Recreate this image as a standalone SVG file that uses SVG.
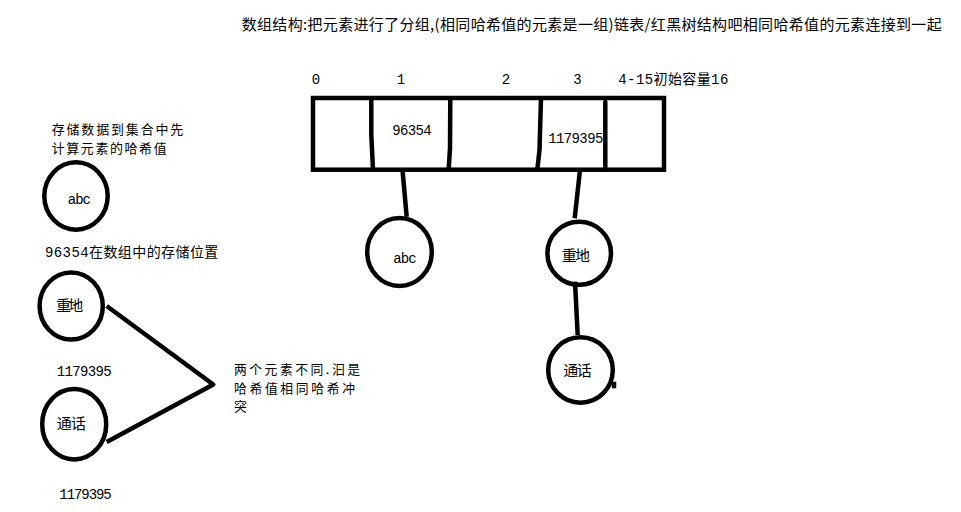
<svg xmlns="http://www.w3.org/2000/svg" width="961" height="512" viewBox="0 0 961 512">
<style>
.bg{fill:#fff}
.node{fill:none;stroke:#000;stroke-width:4.5}
.edge{fill:none;stroke:#000;stroke-width:4.5;stroke-linejoin:round}
text{font-family:"Liberation Mono","Noto Sans CJK SC",monospace;fill:#000}
.cjk{font-family:"Noto Sans CJK SC","Liberation Sans",sans-serif;font-size:15px}
.note{font-family:"Noto Sans CJK SC","Liberation Sans",sans-serif;font-size:13px}
.note2{font-family:"Noto Sans CJK SC","Liberation Sans",sans-serif;font-size:12.8px}
.num{font-size:14px}
</style>
<rect class="bg" x="0" y="0" width="961" height="512"/>

<text id="title" class="cjk" x="241.7" y="29.5" textLength="700" lengthAdjust="spacing">数组结构:把元素进行了分组,(相同哈希值的元素是一组)链表/红黑树结构吧相同哈希值的元素连接到一起</text>

<g id="array">
  <rect class="node" x="313" y="98" width="351" height="71.7"/>
  <path class="node" d="M371.3,98 L371.3,135 L373,169.7"/>
  <path class="node" d="M450.3,98 L450,148 L448.7,169.7"/>
  <path class="node" d="M541,98 L539.5,150 L537.3,169.7"/>
  <path class="node" d="M605.3,102 L605.3,169.7" stroke-linecap="round"/>
  <text class="num" x="311.7" y="84">0</text>
  <text class="num" x="396.7" y="84">1</text>
  <text class="num" x="501.7" y="84">2</text>
  <text class="num" x="573.3" y="84">3</text>
  <text style="font-size:14px" x="618.3" y="84" textLength="110" lengthAdjust="spacing">4-15初始容量16</text>
  <text class="num" x="392.3" y="135" textLength="39.4" lengthAdjust="spacing">96354</text>
  <text class="num" x="548.3" y="143" textLength="55" lengthAdjust="spacing">1179395</text>
</g>

<g id="connectors">
  <path class="edge" d="M402.5,170 L406.7,216.7"/>
  <path class="edge" d="M580,170 L574.7,218.3"/>
  <path class="edge" d="M575,281.7 L577.7,335"/>
  <path class="edge" d="M106.7,306 L213.3,384.5 L106.7,442"/>
</g>

<g id="node-abc-right">
  <ellipse class="node" cx="399.5" cy="252" rx="32.3" ry="34"/>
  <text class="num" x="393.3" y="263" textLength="23.4" lengthAdjust="spacing">abc</text>
</g>

<g id="node-zhongdi-right">
  <ellipse class="node" cx="579.2" cy="253.3" rx="31.8" ry="31.5"/>
  <text class="cjk" x="561.7" y="261" textLength="28.3" lengthAdjust="spacing">重地</text>
</g>

<g id="node-tonghua-right">
  <ellipse class="node" cx="580.5" cy="370" rx="32.3" ry="32.7"/>
  <path class="edge" d="M614,381.7 L614,388.3" stroke-width="4"/>
  <text class="cjk" x="563.3" y="375.7" textLength="28.4" lengthAdjust="spacing">通话</text>
</g>

<g id="note-hash">
  <text class="note" x="51.7" y="134" textLength="131.6" lengthAdjust="spacing">存储数据到集合中先</text>
  <text class="note" x="51.7" y="153" textLength="115" lengthAdjust="spacing">计算元素的哈希值</text>
</g>

<g id="node-abc-left">
  <ellipse class="node" cx="76" cy="196" rx="31.7" ry="33.7"/>
  <text class="num" x="67.7" y="204" textLength="23.3" lengthAdjust="spacing">abc</text>
</g>

<text id="note-pos" style="font-size:14px" x="45" y="257" textLength="173.3" lengthAdjust="spacing">96354在数组中的存储位置</text>

<g id="node-zhongdi-left">
  <ellipse class="node" cx="71.2" cy="306" rx="31.6" ry="33.6"/>
  <text class="cjk" x="56" y="311" textLength="27.3" lengthAdjust="spacing">重地</text>
</g>

<text id="hash1" class="num" x="56.7" y="376" textLength="55" lengthAdjust="spacing">1179395</text>

<g id="node-tonghua-left">
  <ellipse class="node" cx="74.2" cy="424.2" rx="32" ry="35.2"/>
  <text class="cjk" x="56.7" y="429" textLength="29.3" lengthAdjust="spacing">通话</text>
</g>

<text id="hash2" class="num" x="59.3" y="499" textLength="52.4" lengthAdjust="spacing">1179395</text>

<g id="note-collision">
  <text class="note2" x="234" y="373.7" textLength="126" lengthAdjust="spacing">两个元素不同.汩是</text>
  <text class="note2" x="234" y="392.5" textLength="121" lengthAdjust="spacing">哈希值相同哈希冲</text>
  <text class="note2" x="234" y="411.3">突</text>
</g>
</svg>
